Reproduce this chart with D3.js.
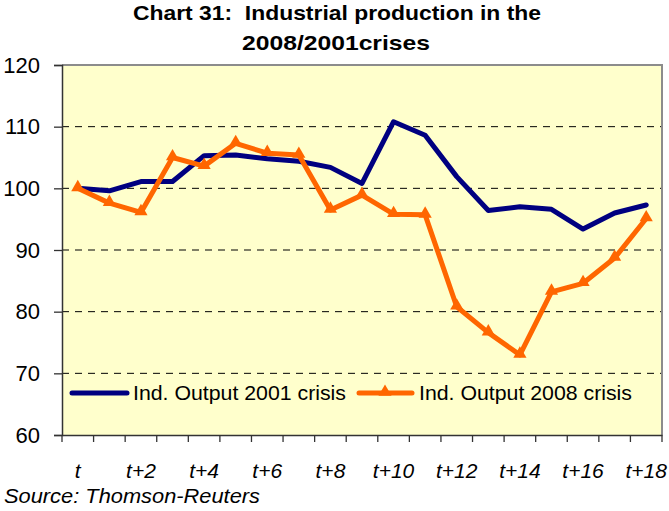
<!DOCTYPE html>
<html><head><meta charset="utf-8">
<script src="https://cdn.jsdelivr.net/npm/d3@7"></script>
<style>body{margin:0;background:#fff}svg{display:block}</style>
</head><body>
<svg id="c" width="669" height="511"></svg>
<script>
const categories = ["t","t+1","t+2","t+3","t+4","t+5","t+6","t+7","t+8","t+9","t+10","t+11","t+12","t+13","t+14","t+15","t+16","t+17","t+18"];
const output2001 = [100,99.6,101.1,101.1,105.3,105.4,104.8,104.4,103.4,100.8,110.8,108.6,101.9,96.4,97.0,96.6,93.4,96.0,97.3];
const output2008 = [100,97.6,96.1,105.0,103.6,107.3,105.7,105.4,96.5,98.9,95.8,95.7,80.8,76.6,73.0,83.2,84.6,88.7,95.1];
const yTicks = [60,70,80,90,100,110,120];
const seriesNames = ["Ind. Output 2001 crisis","Ind. Output 2008 crisis"];

const FONT = "Liberation Sans, Arial, sans-serif";
const svg = d3.select("#c");
const L=62,R=662,T=65,B=435;
const x = d3.scaleBand().domain(categories).range([L,R]).paddingInner(0).paddingOuter(0);
const y = d3.scaleLinear().domain([60,120]).range([B,T]);
const cx = d => x(d)+x.bandwidth()/2;

svg.append("rect").attr("x",L).attr("y",T).attr("width",R-L).attr("height",B-T).attr("fill","#FFFFCC");

// grid
svg.append("g").selectAll("line").data(yTicks.filter(v=>v>60&&v<120)).join("line")
  .attr("x1",L).attr("x2",R).attr("y1",d=>y(d)).attr("y2",d=>y(d))
  .attr("stroke","#000").attr("stroke-width",1).attr("stroke-dasharray","7,6");

// border top/right
svg.append("path").attr("d",`M${L},${T}H${R}V${B}`).attr("fill","none").attr("stroke","#8c8c8c").attr("stroke-width",2);

// y axis
const ya = svg.append("g").attr("transform",`translate(${L},0)`)
  .call(d3.axisLeft(y).tickValues(yTicks).tickSize(8).tickPadding(14));
ya.select(".domain").attr("stroke","#333").attr("stroke-width",1.5);
ya.selectAll(".tick line").attr("stroke","#333").attr("stroke-width",1.3);
ya.selectAll("text").attr("font-family",FONT).attr("font-size",22).attr("fill","#000");

// x axis
const xa = svg.append("g").attr("transform",`translate(0,${B})`)
  .call(d3.axisBottom(x).tickSize(0).tickFormat((d,i)=>i%2===0?d:""));
xa.select(".domain").attr("stroke","#333").attr("stroke-width",1.5);
xa.selectAll("text").attr("font-family",FONT).attr("font-size",21)
  .attr("font-style","italic").attr("fill","#000").attr("dy",null).attr("y",43);
const bounds = categories.map(c=>x(c)).concat([R]);
svg.append("g").selectAll("line").data(bounds).join("line")
  .attr("x1",d=>d).attr("x2",d=>d).attr("y1",B).attr("y2",B+7).attr("stroke","#333").attr("stroke-width",1.3);

// lines
const line = d3.line().x((d,i)=>cx(categories[i])).y(d=>y(d));
svg.append("path").datum(output2001).attr("d",line).attr("fill","none").attr("stroke","#000080").attr("stroke-width",5).attr("stroke-linejoin","round").attr("stroke-linecap","round");
svg.append("path").datum(output2008).attr("d",line).attr("fill","none").attr("stroke","#FF6600").attr("stroke-width",5).attr("stroke-linejoin","round");
const tri = d3.symbol().type(d3.symbolTriangle).size(75);
svg.append("g").selectAll("path").data(output2008).join("path")
  .attr("d",tri).attr("transform",(d,i)=>`translate(${cx(categories[i])},${y(d)-1})`).attr("fill","#FF6600");

// legend
const lg = svg.append("g");
lg.append("line").attr("x1",72).attr("x2",127).attr("y1",393).attr("y2",393).attr("stroke","#000080").attr("stroke-width",5).attr("stroke-linecap","round");
lg.append("text").attr("x",133).attr("y",400).attr("textLength",213).text(seriesNames[0]);
lg.append("line").attr("x1",359).attr("x2",412).attr("y1",393).attr("y2",393).attr("stroke","#FF6600").attr("stroke-width",5).attr("stroke-linecap","round");
lg.append("path").attr("d",tri).attr("transform","translate(385,392)").attr("fill","#FF6600");
lg.append("text").attr("x",419).attr("y",400).attr("textLength",213).text(seriesNames[1]);
lg.selectAll("text").attr("font-family",FONT).attr("font-size",21).attr("fill","#000").attr("lengthAdjust","spacingAndGlyphs");

// title
const tt = svg.append("text").attr("font-family",FONT)
  .attr("font-weight","bold").attr("font-size",20.5).attr("fill","#000").attr("xml:space","preserve");
tt.append("tspan").attr("x",133).attr("y",20).attr("textLength",408).attr("lengthAdjust","spacingAndGlyphs").text("Chart 31:  Industrial production in the");
tt.append("tspan").attr("x",242).attr("y",50).attr("textLength",188).attr("lengthAdjust","spacingAndGlyphs").text("2008/2001crises");

svg.append("text").attr("x",4).attr("y",503).attr("font-family",FONT).attr("textLength",256).attr("lengthAdjust","spacingAndGlyphs")
  .attr("font-size",21).attr("font-style","italic").attr("fill","#000").text("Source: Thomson-Reuters");
</script>
</body></html>
